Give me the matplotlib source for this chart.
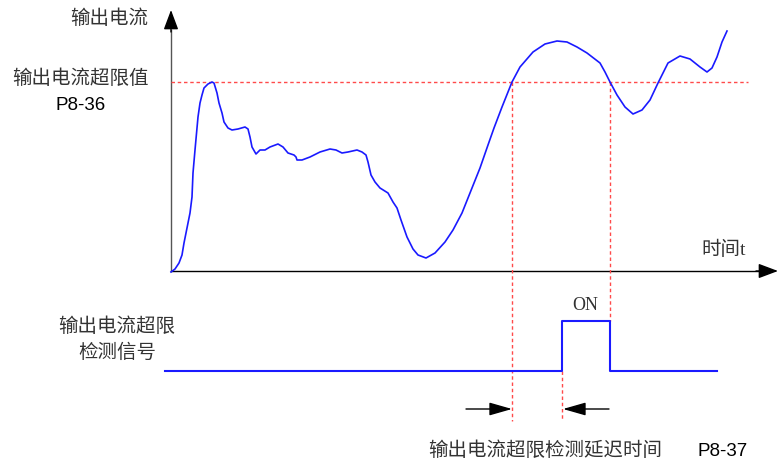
import matplotlib.pyplot as plt

# coordinates: t along the time axis, i = current (origin at axis crossing)
curve_t = [0, 4, 8, 11, 13, 15, 17, 19, 21, 22, 24, 26, 27, 29, 31, 33, 37, 41, 43, 46,
           48, 51, 53, 57, 61, 67, 74, 77, 79, 81, 85, 89, 94, 99, 107, 112, 117, 123,
           125, 126, 131, 139, 149, 159, 165, 171, 177, 186, 191, 195, 197, 200, 204,
           209, 217, 222, 226, 230, 236, 242, 247, 255, 264, 274, 282, 291, 299, 309,
           317, 323, 331, 341, 349, 362, 374, 386, 396, 406, 416, 429, 434, 439, 446,
           454, 462, 471, 479, 487, 497, 509, 519, 529, 536, 541, 546, 551, 556]
curve_i = [-1, 2, 8, 16, 28, 38, 48, 58, 74, 98, 121, 143, 154, 168, 176, 183, 187, 189,
           188, 178, 168, 158, 149, 143, 141, 142, 144, 142, 134, 124, 117, 121, 121, 124,
           127, 124, 118, 116, 114, 111, 111, 114, 119, 122, 121, 118, 119, 121, 119,
           116, 109, 96, 89, 83, 78, 69, 63, 51, 34, 22, 16, 13, 18, 29, 41, 58, 78, 103,
           126, 143, 164, 189, 204, 219, 227, 230, 229, 224, 218, 208, 199, 189, 176,
           164, 157, 161, 171, 188, 208, 215, 212, 204, 199, 203, 214, 229, 240]
threshold = 189
cross_t = [341, 439]          # threshold crossings
delay_on = 391                # signal goes on after the detection delay
signal_start, signal_end = -6, 546
signal_low, signal_high = -100, -50

t_axis_end = 607
i_axis_end = 261
threshold_end = 577

blue = "#1a1aff"
red = "#ff4a4a"
cjk = ["Noto Sans CJK SC", "DejaVu Sans"]
txt = "#333333"
fs = 14

fig = plt.figure(figsize=(7.79, 4.62), dpi=100)
ax = fig.add_axes([0, 0, 1, 1])
ax.set_xlim(-171, 608)
ax.set_ylim(-191, 271)
ax.axis("off")

# axes with arrow heads
ax.plot([0, 0], [0, i_axis_end - 20], color="#555555", lw=1.0)
ax.annotate("", xy=(0, i_axis_end), xytext=(0, i_axis_end - 22),
            arrowprops=dict(arrowstyle="-|>,head_length=1.2,head_width=0.45",
                            color="black", lw=1.0, shrinkA=0, shrinkB=0))
ax.plot([0, t_axis_end - 20], [0, 0], color="black", lw=1.0)
ax.annotate("", xy=(t_axis_end, 0), xytext=(t_axis_end - 22, 0),
            arrowprops=dict(arrowstyle="-|>,head_length=1.2,head_width=0.45",
                            color="black", lw=1.0, shrinkA=0, shrinkB=0))

# threshold and crossing markers
dot = dict(color=red, lw=1.0, linestyle=(0, (2.5, 2)))
ax.plot([0, threshold_end], [threshold, threshold], **dot)
ax.plot([cross_t[0], cross_t[0]], [threshold, -150], **dot)
ax.plot([cross_t[1], cross_t[1]], [threshold, signal_high], **dot)
ax.plot([delay_on, delay_on], [signal_low, -150], **dot)

# current curve
ax.plot(curve_t, curve_i, color=blue, lw=1.2, solid_joinstyle="round")

# detection signal
sig_t = [signal_start, delay_on, delay_on, cross_t[1], cross_t[1], signal_end]
sig_v = [signal_low, signal_low, signal_high, signal_high, signal_low, signal_low]
ax.plot(sig_t, sig_v, color=blue, lw=1.5)

# delay arrows
arrow = dict(arrowstyle="-|>,head_length=1.4,head_width=0.4", color="black",
             lw=1.0, shrinkA=0, shrinkB=0)
ax.annotate("", xy=(cross_t[0], -138), xytext=(cross_t[0] - 46, -138), arrowprops=arrow)
ax.annotate("", xy=(delay_on + 1, -138), xytext=(cross_t[1] - 1, -138), arrowprops=arrow)

# labels
ax.text(-23, 252, "输出电流", ha="right", va="center", fontsize=fs, family=cjk, color=txt)
ax.text(-22, 192, "输出电流超限值", ha="right", va="center", fontsize=fs, family=cjk, color=txt)
ax.text(-90, 165, "P8-36", ha="center", va="center", fontsize=13.5,
        family="Liberation Sans", color="black")
ax.text(-54, -56, "输出电流超限", ha="center", va="center", fontsize=fs, family=cjk, color=txt)
ax.text(-54, -81, "检测信号", ha="center", va="center", fontsize=fs, family=cjk, color=txt)
ax.text(553, 21, "时间t", ha="center", va="center", fontsize=fs,
        family=["Liberation Serif", "Noto Sans CJK SC"], color=txt)
ax.text(414, -34, "ON", ha="center", va="center", fontsize=13,
        family="Liberation Serif", color=txt)
ax.text(257, -180, "输出电流超限检测延迟时间", ha="left", va="center", fontsize=fs,
        family=cjk, color=txt)
ax.text(577, -180, "P8-37", ha="right", va="center", fontsize=13.5,
        family="Liberation Sans", color="black")

fig.savefig("out.png", dpi=100)
